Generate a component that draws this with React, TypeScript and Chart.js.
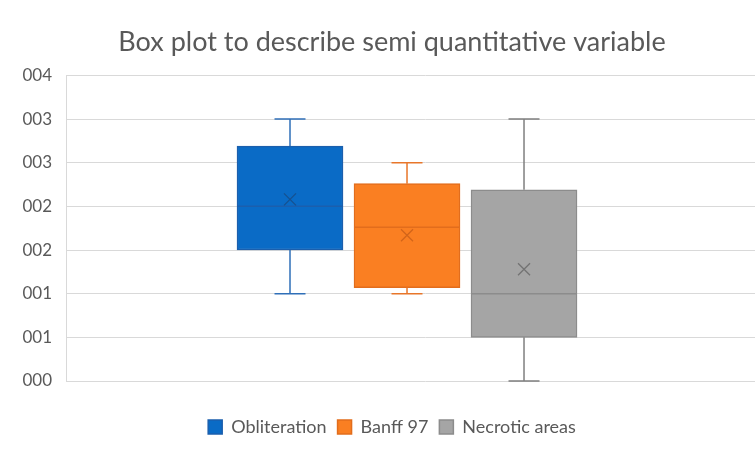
import React, { useEffect, useRef } from "react";
import { Chart, registerables } from "chart.js";

Chart.register(...registerables);

const seriesNames = ["Obliteration", "Banff 97", "Necrotic areas"];
const minValues = [1.0, 1.0, 0.0];
const q1Values = [1.5, 1.07, 0.5];
const medianValues = [2.0, 1.76, 1.0];
const q3Values = [2.69, 2.26, 2.19];
const maxValues = [3.0, 2.5, 3.0];
const meanValues = [2.08, 1.67, 1.28];
const yTickLabels = ["000", "001", "001", "002", "002", "003", "003", "004"];

const fillColors = ["#0A6BC6", "#FA7F22", "#A5A5A5"];
const borderColors = ["#1B5FAD", "#E26D1C", "#8C8C8C"];
const lineColors = ["#2F6FB8", "#E8762A", "#7F7F7F"];
const meanColors = ["#16518F", "#D2651A", "#737373"];
const textColor = "#595959";
const fontFamily = "Lato, 'Open Sans', sans-serif";

const boxPlotPlugin = {
  id: "boxWhiskers",
  afterDatasetsDraw(chart: any) {
    const ctx = chart.ctx;
    const y = chart.scales.y;
    ctx.save();
    chart.data.datasets.forEach((_ds: any, i: number) => {
      const meta = chart.getDatasetMeta(i);
      const bar: any = meta.data[0];
      if (!bar) return;
      const x = bar.x;
      const w = bar.width;
      const capHalf = 15.5;
      ctx.strokeStyle = lineColors[i];
      ctx.lineWidth = 1.5;
      ctx.beginPath();
      ctx.moveTo(x, y.getPixelForValue(maxValues[i]));
      ctx.lineTo(x, y.getPixelForValue(q3Values[i]));
      ctx.moveTo(x - capHalf, y.getPixelForValue(maxValues[i]));
      ctx.lineTo(x + capHalf, y.getPixelForValue(maxValues[i]));
      ctx.moveTo(x, y.getPixelForValue(q1Values[i]));
      ctx.lineTo(x, y.getPixelForValue(minValues[i]));
      ctx.moveTo(x - capHalf, y.getPixelForValue(minValues[i]));
      ctx.lineTo(x + capHalf, y.getPixelForValue(minValues[i]));
      ctx.stroke();
      ctx.strokeStyle = borderColors[i];
      ctx.lineWidth = 1.5;
      ctx.beginPath();
      const my = y.getPixelForValue(medianValues[i]);
      ctx.moveTo(x - w / 2, my);
      ctx.lineTo(x + w / 2, my);
      ctx.stroke();
      const ay = y.getPixelForValue(meanValues[i]);
      const s = 6;
      ctx.strokeStyle = meanColors[i];
      ctx.lineWidth = 1.3;
      ctx.beginPath();
      ctx.moveTo(x - s, ay - s);
      ctx.lineTo(x + s, ay + s);
      ctx.moveTo(x + s, ay - s);
      ctx.lineTo(x - s, ay + s);
      ctx.stroke();
    });
    ctx.restore();
  },
};

export default function App() {
  const ref = useRef<HTMLCanvasElement | null>(null);
  useEffect(() => {
    if (!ref.current) return;
    const chart = new Chart(ref.current, {
      type: "bar",
      data: {
        datasets: seriesNames.map((name, i) => ({
          label: name,
          data: [{ x: i, y: [q1Values[i], q3Values[i]] }],
          backgroundColor: fillColors[i],
          borderColor: borderColors[i],
          borderWidth: 1.5,
          borderSkipped: false,
          grouped: false,
          barThickness: 106,
        })),
      },
      options: {
        animation: false,
        responsive: false,
        maintainAspectRatio: false,
        layout: { padding: { left: 0, right: 0, top: 0, bottom: 10 } },
        plugins: {
          title: {
            display: true,
            text: "Box plot to describe semi quantitative variable",
            color: textColor,
            font: { family: fontFamily, size: 27, weight: "normal" },
            padding: { top: 26, bottom: 17 },
          },
          legend: {
            position: "bottom",
            labels: {
              color: textColor,
              font: { family: fontFamily, size: 18 },
              boxWidth: 14,
              boxHeight: 14,
              padding: 11,
            },
          },
          tooltip: { enabled: false },
        },
        scales: {
          x: {
            type: "linear",
            min: -1.9145,
            max: 4.222,
            offset: false,
            display: true,
            grid: { display: false },
            border: { display: false },
            ticks: { display: false },
            afterFit(scale: any) {
              scale.height = 26;
            },
          },
          y: {
            min: 0,
            max: 3.5,
            ticks: {
              stepSize: 0.5,
              color: textColor,
              font: { family: fontFamily, size: 17 },
              padding: 14,
              callback: (_v: any, i: number) => yTickLabels[i],
            },
            grid: { color: "#D9D9D9", lineWidth: 1, drawTicks: false },
            border: { display: true, color: "#D9D9D9" },
            afterFit(scale: any) {
              scale.width = 66;
            },
          },
        },
      },
      plugins: [boxPlotPlugin],
    });
    return () => chart.destroy();
  }, []);
  return (
    <div style={{ position: "fixed", left: 0, top: 0, width: 755, height: 456, overflow: "hidden", background: "#fff" }}>
      <canvas ref={ref} width={784} height={456} style={{ display: "block" }} />
    </div>
  );
}
